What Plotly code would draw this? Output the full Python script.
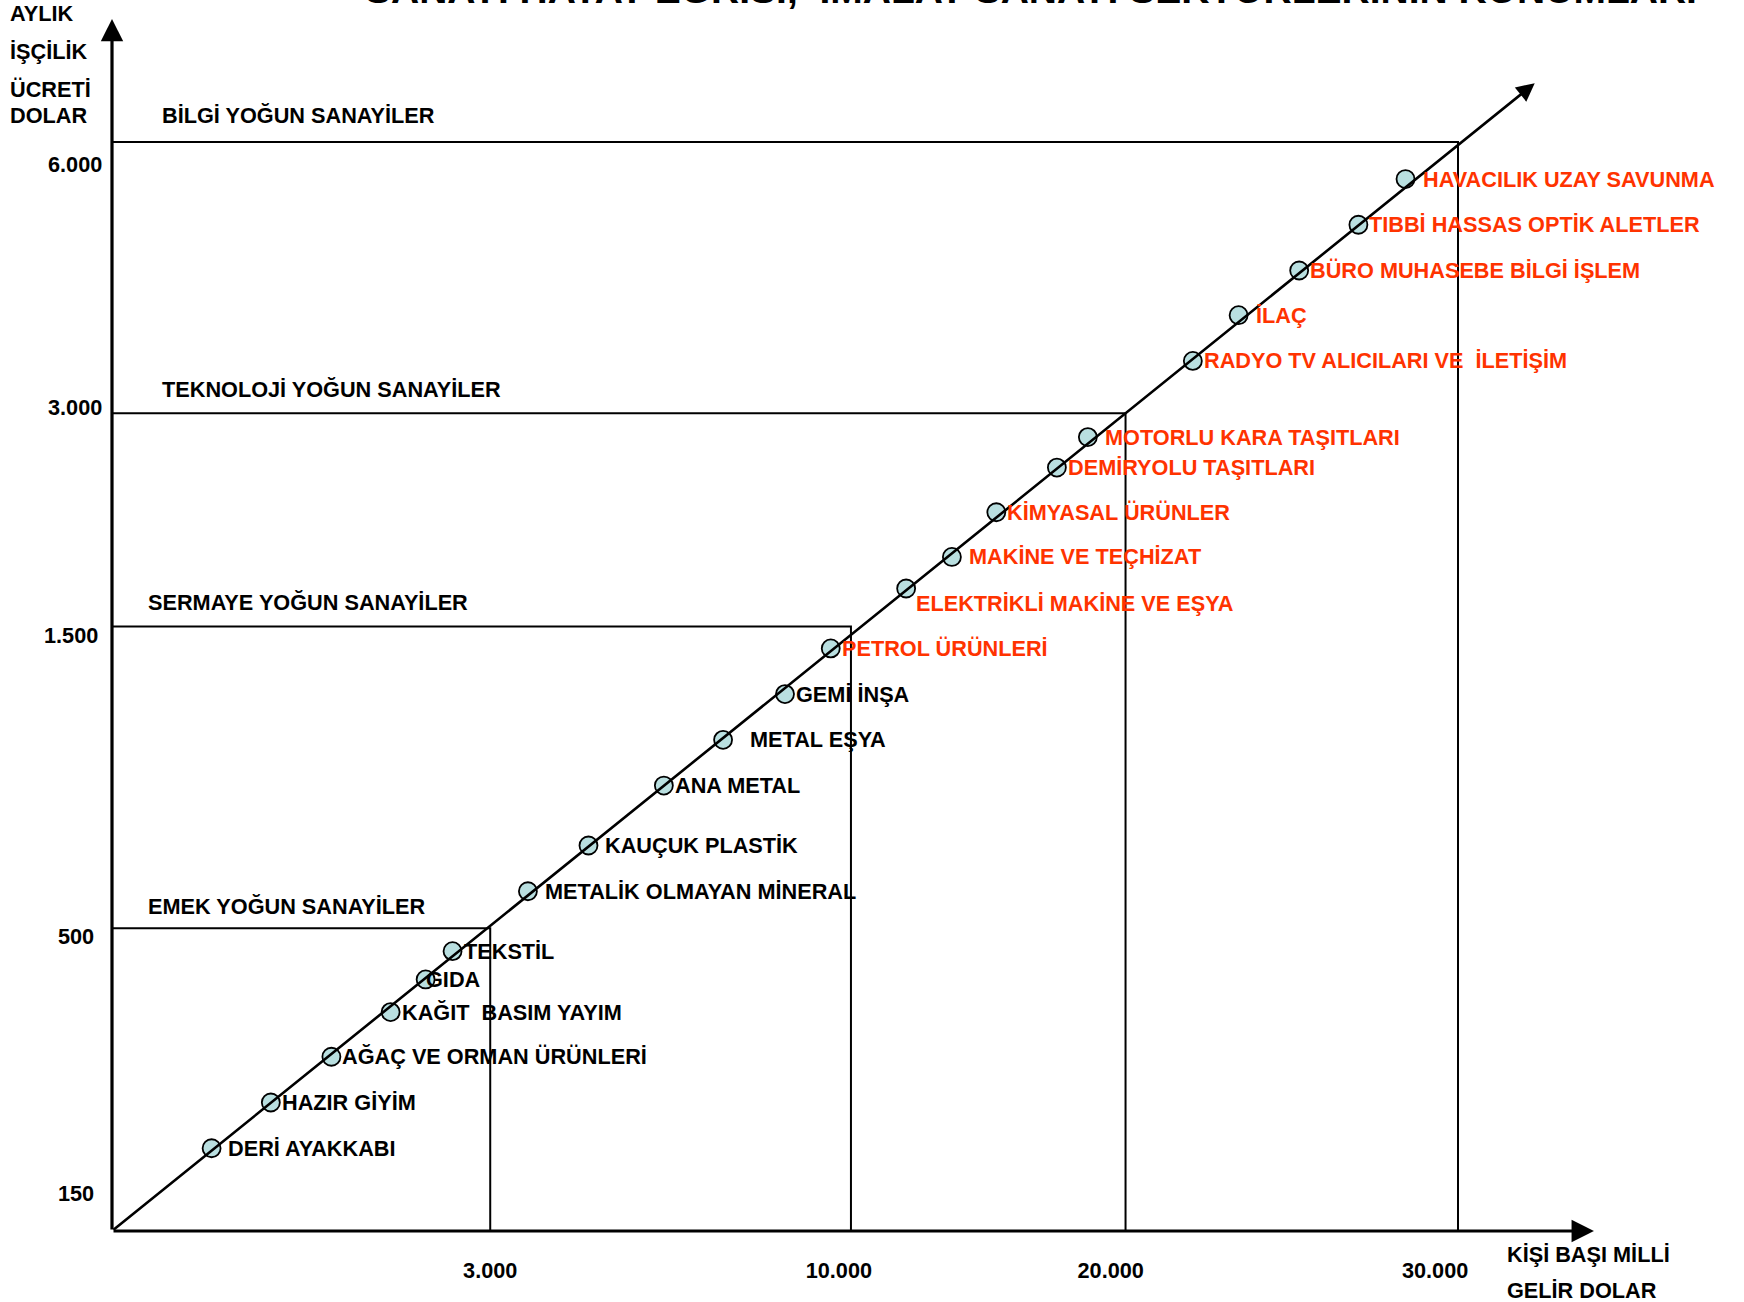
import plotly.graph_objects as go

# ---------------- DATA ----------------
sektorler = [
    "DERİ AYAKKABI", "HAZIR GİYİM", "AĞAÇ VE ORMAN ÜRÜNLERİ", "KAĞIT  BASIM YAYIM",
    "GIDA", "TEKSTİL", "METALİK OLMAYAN MİNERAL", "KAUÇUK PLASTİK", "ANA METAL",
    "METAL EŞYA", "GEMİ İNŞA", "PETROL ÜRÜNLERİ", "ELEKTRİKLİ MAKİNE VE EŞYA",
    "MAKİNE VE TEÇHİZAT", "KİMYASAL ÜRÜNLER", "DEMİRYOLU TAŞITLARI",
    "MOTORLU KARA TAŞITLARI", "RADYO TV ALICILARI VE  İLETİŞİM", "İLAÇ",
    "BÜRO MUHASEBE BİLGİ İŞLEM", "TIBBİ HASSAS OPTİK ALETLER", "HAVACILIK UZAY SAVUNMA",
]
# schematic position on the income axis (0 = origin, 100 = 30.000 $ threshold)
gelir_konum = [7.4, 11.8, 16.3, 20.7, 23.3, 25.3, 30.9, 35.4, 41.0, 45.4, 50.0,
               53.4, 59.0, 62.4, 65.7, 70.2, 72.5, 80.3, 83.7, 88.2, 92.6, 96.1]
# schematic position on the wage axis (0 = origin, 100 = 6.000 $ threshold)
ucret_konum = [7.6, 11.8, 16.0, 20.1, 23.1, 25.7, 31.2, 35.4, 40.9, 45.1, 49.3,
               53.5, 59.0, 61.9, 66.0, 70.1, 72.9, 79.9, 84.1, 88.2, 92.4, 96.6]
ileri_teknoloji = [False] * 11 + [True] * 11

sanayi_gruplari = ["EMEK YOĞUN SANAYİLER", "SERMAYE YOĞUN SANAYİLER",
                   "TEKNOLOJİ YOĞUN SANAYİLER", "BİLGİ YOĞUN SANAYİLER"]
esik_gelir = [28.1, 54.9, 75.3, 100.0]
esik_ucret = [27.8, 55.5, 75.1, 100.0]

gelir_etiketleri = ["3.000", "10.000", "20.000", "30.000"]
gelir_etiket_konum = [28.1, 54.0, 74.2, 98.3]
ucret_etiketleri = ["150", "500", "1.500", "3.000", "6.000"]
ucret_etiket_konum = [3.4, 27.0, 54.7, 75.6, 97.9]

baslik = "SANAYİ HAYAT EĞRİSİ,  İMALAT SANAYİ SEKTÖRLERİNİN KONUMLARI"
y_baslik = ["AYLIK", "İŞÇİLİK", "ÜCRETİ", "DOLAR"]
x_baslik = ["KİŞİ BAŞI MİLLİ", "GELİR DOLAR"]

# ---------------- STYLE / LAYOUT ----------------
W, H = 1744, 1302
ML, MB = 112, 71
PX_X, PX_Y = 13.46, 10.89          # pixels per schematic unit
XR = (W - ML) / PX_X
YR = (H - MB) / PX_Y
FONT = "Liberation Sans, Arial, sans-serif"
FS = 21.7
KIRMIZI = "#FF3300"
SIYAH = "#000000"

# label offsets (px): right shift from point, vertical shift
etiket_dx = [14, 9, 9, 9, -2, 9, 15, 15, 9, 25, 9,
             9, 8, 15, 9, 9, 15, 9, 15, 9, 9, 15]
etiket_dy = [0, 0, 0, 0, 0, 0, 0, 0, 0, 0, 0,
             0, -15, 0, 0, 0, 0, 0, 0, 0, 0, 0]
grup_x = [2.5, 2.5, 3.6, 3.6]
grup_dy = [22, 24, 24, 27]
y_etiket_kaydir = [-5, -5, -1, 3, 3]   # fine horizontal shift of wage tick labels

eksen_x_uc = 110.1
eksen_y_uc = 111.3
diyagonal_uc = (105.7, 105.4)

fig = go.Figure()

# threshold frames (horizontal line to diagonal, then vertical down to axis)
for gx, gy in zip(esik_gelir, esik_ucret):
    fig.add_trace(go.Scatter(
        x=[0, gx, gx], y=[gy, gy, 0], mode="lines",
        line=dict(color=SIYAH, width=2), cliponaxis=False,
        hoverinfo="skip", showlegend=False))

annotations = []
# axes and diagonal as arrows
for (hx, hy), w in [((eksen_x_uc, 0), 3.2), ((0, eksen_y_uc), 3.2), (diyagonal_uc, 2.6)]:
    annotations.append(dict(
        x=hx, y=hy, ax=0, ay=0, xref="x", yref="y", axref="x", ayref="y",
        showarrow=True, arrowhead=2, arrowsize=1.4, arrowwidth=w,
        arrowcolor=SIYAH, text=""))

# sector points
fig.add_trace(go.Scatter(
    x=gelir_konum, y=ucret_konum, mode="markers",
    marker=dict(size=18, color="#B9DFE0", line=dict(color=SIYAH, width=1.8)),
    cliponaxis=False, hovertext=sektorler, hoverinfo="text", showlegend=False))

for ad, gx, gy, ileri, dx, dy in zip(sektorler, gelir_konum, ucret_konum,
                                      ileri_teknoloji, etiket_dx, etiket_dy):
    annotations.append(dict(
        x=gx, y=gy, xref="x", yref="y", text="<b>" + ad + "</b>",
        showarrow=False, xanchor="left", yanchor="middle",
        xshift=dx, yshift=dy,
        font=dict(family=FONT, size=FS, color=KIRMIZI if ileri else SIYAH)))

for ad, gx, gy, dy in zip(sanayi_gruplari, grup_x, esik_ucret, grup_dy):
    annotations.append(dict(
        x=gx, y=gy, xref="x", yref="y", text="<b>" + ad + "</b>",
        showarrow=False, xanchor="left", yanchor="middle", yshift=dy,
        font=dict(family=FONT, size=FS, color=SIYAH)))

# wage tick labels (right-aligned left of the axis)
for t, yy, sh in zip(ucret_etiketleri, ucret_etiket_konum, y_etiket_kaydir):
    annotations.append(dict(
        x=0, y=yy, xref="paper", yref="y", text="<b>" + t + "</b>",
        showarrow=False, xanchor="right", yanchor="middle", xshift=-11 + sh,
        font=dict(family=FONT, size=FS, color=SIYAH)))

# y axis title lines (left of the plot area)
for t, yy in zip(y_baslik, [111.8, 108.3, 104.8, 102.4]):
    annotations.append(dict(
        x=0, y=yy, xref="paper", yref="y", text="<b>" + t + "</b>",
        showarrow=False, xanchor="left", yanchor="middle", xshift=-104,
        font=dict(family=FONT, size=FS, color=SIYAH)))
# x axis title lines (below the plot area)
for t, sh in zip(x_baslik, [-23, -59]):
    annotations.append(dict(
        x=103.5, y=0, xref="x", yref="paper", text="<b>" + t + "</b>",
        showarrow=False, xanchor="left", yanchor="middle", yshift=sh,
        font=dict(family=FONT, size=FS, color=SIYAH)))
# title (cut by the top edge as in the source)
annotations.append(dict(
    x=68.3, y=1, xref="x", yref="paper", text="<b>" + baslik + "</b>",
    showarrow=False, xanchor="center", yanchor="middle", yshift=11,
    font=dict(family=FONT, size=39, color=SIYAH)))

fig.update_layout(
    width=W, height=H,
    margin=dict(l=ML, r=0, t=0, b=MB, pad=0),
    paper_bgcolor="white", plot_bgcolor="white",
    showlegend=False,
    annotations=annotations,
    xaxis=dict(range=[0, XR], showgrid=False, zeroline=False, showline=False,
               tickmode="array", tickvals=gelir_etiket_konum,
               ticktext=["<b>" + t + "</b>" for t in gelir_etiketleri],
               ticks="", ticklabelstandoff=24,
               tickfont=dict(family=FONT, size=FS, color=SIYAH), fixedrange=True),
    yaxis=dict(range=[0, YR], showgrid=False, zeroline=False, showline=False,
               showticklabels=False, fixedrange=True),
)

fig.write_html("out.html", config={"displayModeBar": False},
               post_script="document.body.style.margin='0';document.body.style.overflow='hidden';")
